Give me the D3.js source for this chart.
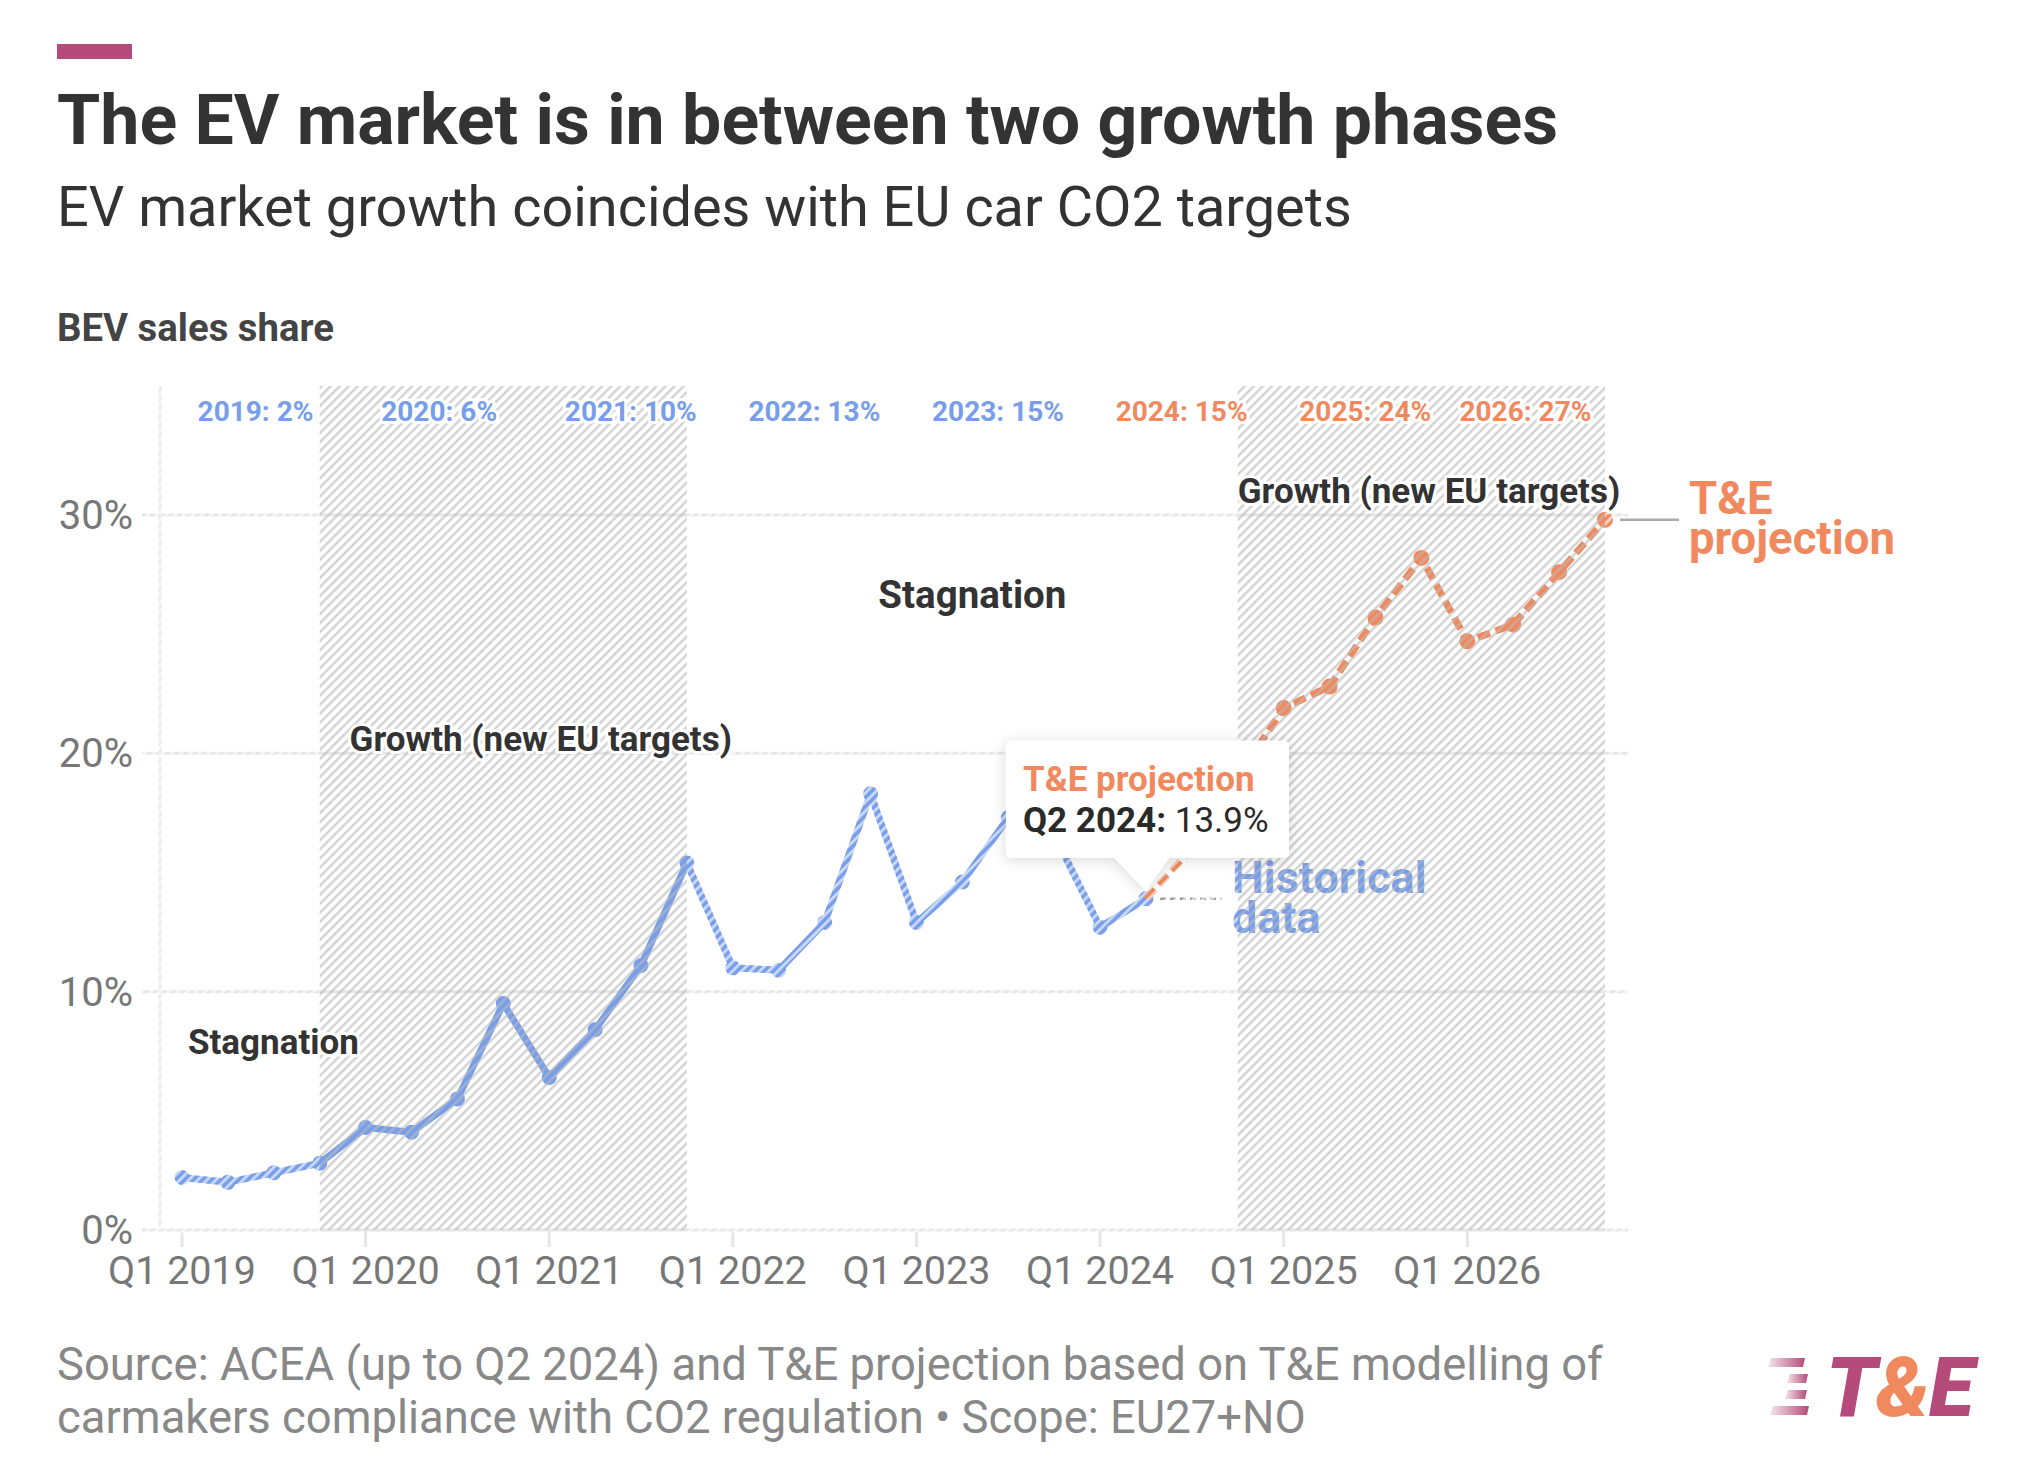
<!DOCTYPE html>
<html><head><meta charset="utf-8">
<script src="https://cdn.jsdelivr.net/npm/d3@7"></script>
<style>
html,body{margin:0;padding:0;background:#fff;}
svg{display:block;font-family:Roboto,"Noto Sans",sans-serif;}
</style></head><body>
<svg id="chart" width="2024" height="1471"></svg>
<script>
// ---------------- DATA ----------------
const quarters = [
  "Q1 2019","Q2 2019","Q3 2019","Q4 2019","Q1 2020","Q2 2020","Q3 2020","Q4 2020",
  "Q1 2021","Q2 2021","Q3 2021","Q4 2021","Q1 2022","Q2 2022","Q3 2022","Q4 2022",
  "Q1 2023","Q2 2023","Q3 2023","Q4 2023","Q1 2024","Q2 2024","Q3 2024","Q4 2024",
  "Q1 2025","Q2 2025","Q3 2025","Q4 2025","Q1 2026","Q2 2026","Q3 2026","Q4 2026"];
// BEV sales share (%), historical: Q1 2019 .. Q2 2024
const historicalQuarters = quarters.slice(0, 22);
const historicalValues = [2.2,2.0,2.4,2.8,4.3,4.1,5.5,9.5,6.4,8.4,11.1,15.4,11.0,10.9,12.9,18.3,12.9,14.6,17.3,16.6,12.7,13.9];
// T&E projection: Q2 2024 .. Q4 2026
const projectionQuarters = quarters.slice(21);
const projectionValues = [13.9,16.0,19.0,21.9,22.8,25.7,28.2,24.7,25.4,27.6,29.8];
const xTickLabels = ["Q1 2019","Q1 2020","Q1 2021","Q1 2022","Q1 2023","Q1 2024","Q1 2025","Q1 2026"];
const yTickValues = [0,10,20,30];
const annualLabels = ["2019: 2%","2020: 6%","2021: 10%","2022: 13%","2023: 15%","2024: 15%","2025: 24%","2026: 27%"];
const annualIsProjection = [false,false,false,false,false,true,true,true];
const growthPhases = [["Q4 2019","Q4 2021"],["Q4 2024","Q4 2026"]];
const phaseLabels = ["Stagnation","Growth (new EU targets)","Stagnation","Growth (new EU targets)"];

// ---------------- STYLE ----------------
const BLUE = "#789ee9", ORANGE = "#f08a5e", PINK = "#b54b7b", DARK = "#333333", GRAY = "#777777";
const svg = d3.select("#chart");
const qi = q => quarters.indexOf(q);
const x = d3.scaleLinear().domain([0, quarters.length - 1]).range([182, 1605]);
const y = d3.scaleLinear().domain([0, 30]).range([1230, 515]);
const plotTop = 386, plotLeft = 160, plotRight = 1628;

function fitWidth(sel, target){
  const w = sel.node().getComputedTextLength();
  const fs = parseFloat(sel.attr("font-size"));
  sel.attr("font-size", (fs * target / w).toFixed(2));
}

// ---------------- HEADER ----------------
svg.append("rect").attr("x",57).attr("y",44).attr("width",75).attr("height",15).attr("fill",PINK);
const title = svg.append("text").attr("x",57).attr("y",144).attr("font-size",68).attr("font-weight",700)
  .attr("fill",DARK).text("The EV market is in between two growth phases");
fitWidth(title, 1501);
const sub = svg.append("text").attr("x",57).attr("y",226).attr("font-size",50).attr("font-weight",400)
  .attr("fill",DARK).text("EV market growth coincides with EU car CO2 targets");
fitWidth(sub, 1295);
const ylab = svg.append("text").attr("x",57).attr("y",341).attr("font-size",38).attr("font-weight",700)
  .attr("fill","#444").text("BEV sales share");
fitWidth(ylab, 277);

// ---------------- DEFS ----------------
const defs = svg.append("defs");
const pw = defs.append("pattern").attr("id","hatchWhite").attr("patternUnits","userSpaceOnUse")
  .attr("width",6.4).attr("height",6.4).attr("patternTransform","rotate(45)");
pw.append("rect").attr("x",0).attr("y",0).attr("width",2.9).attr("height",6.4).attr("fill","rgba(255,255,255,0.6)");
const pg = defs.append("pattern").attr("id","hatchGray").attr("patternUnits","userSpaceOnUse")
  .attr("width",6.4).attr("height",6.4).attr("patternTransform","rotate(45)");
pg.append("rect").attr("x",0).attr("y",0).attr("width",2.5).attr("height",6.4).attr("fill","rgba(185,185,185,0.62)");
const sh = defs.append("filter").attr("id","shadow").attr("x","-20%").attr("y","-30%").attr("width","140%").attr("height","170%");
sh.append("feDropShadow").attr("dx",0).attr("dy",2).attr("stdDeviation",7).attr("flood-color","#000").attr("flood-opacity",0.16);
const lg = defs.append("linearGradient").attr("id","logoGrad").attr("x1","0").attr("x2","1").attr("y1","0").attr("y2","0");
lg.append("stop").attr("offset","0%").attr("stop-color",PINK).attr("stop-opacity",0.15);
lg.append("stop").attr("offset","100%").attr("stop-color",PINK).attr("stop-opacity",1);

// ---------------- GRID & AXES ----------------
const g = svg.append("g");
g.selectAll("line.grid").data(yTickValues).join("line").attr("class","grid")
  .attr("x1",142).attr("x2",plotRight).attr("y1",d=>y(d)).attr("y2",d=>y(d))
  .attr("stroke","#e6e6e6").attr("stroke-width",3);
g.append("line").attr("x1",plotLeft).attr("x2",plotLeft).attr("y1",plotTop).attr("y2",y(0))
  .attr("stroke","#ececec").attr("stroke-width",3);
g.selectAll("line.xt").data(xTickLabels).join("line").attr("class","xt")
  .attr("x1",d=>x(qi(d))).attr("x2",d=>x(qi(d))).attr("y1",y(0)).attr("y2",y(0)+17)
  .attr("stroke","#e6e6e6").attr("stroke-width",3);
g.selectAll("text.yl").data(yTickValues).join("text").attr("class","yl")
  .attr("x",133).attr("y",d=>y(d)).attr("dy","0.35em").attr("text-anchor","end")
  .attr("font-size",40).attr("fill",GRAY).text(d=>d+"%");
g.selectAll("text.xl").data(xTickLabels).join("text").attr("class","xl")
  .attr("x",d=>x(qi(d))).attr("y",1284).attr("text-anchor","middle")
  .attr("font-size",39.5).attr("fill",GRAY).text(d=>d);

// ---------------- LINES ----------------
const line = d3.line().x(d=>x(qi(d.q))).y(d=>y(d.v));
const hist = historicalQuarters.map((q,i)=>({q, v:historicalValues[i]}));
const proj = projectionQuarters.map((q,i)=>({q, v:projectionValues[i]}));
svg.append("path").datum(hist).attr("d",line).attr("fill","none").attr("stroke",BLUE)
  .attr("stroke-width",7).attr("stroke-linejoin","round").attr("stroke-linecap","round");
svg.selectAll("circle.h").data(hist).join("circle").attr("class","h")
  .attr("cx",d=>x(qi(d.q))).attr("cy",d=>y(d.v)).attr("r",7.5).attr("fill",BLUE);
svg.append("path").datum(proj).attr("d",line).attr("fill","none").attr("stroke",ORANGE)
  .attr("stroke-width",7).attr("stroke-dasharray","13,6").attr("stroke-linejoin","round");
svg.selectAll("circle.p").data(proj.slice(1)).join("circle").attr("class","p")
  .attr("cx",d=>x(qi(d.q))).attr("cy",d=>y(d.v)).attr("r",8).attr("fill",ORANGE);

// "Historical data" label (under hatch)
const lastH = hist[hist.length-1];
svg.append("line").attr("x1",x(qi(lastH.q))+14).attr("x2",x(qi(lastH.q))+76)
  .attr("y1",y(lastH.v)).attr("y2",y(lastH.v)).attr("stroke","#9a9a9a").attr("stroke-width",2.5).attr("stroke-dasharray","6,4");
const hd = svg.append("text").attr("x",x(qi(lastH.q))+86).attr("font-size",45).attr("font-weight",700).attr("fill",BLUE);
hd.append("tspan").attr("x",x(qi(lastH.q))+86).attr("y",y(lastH.v)-6).text("Historical");
hd.append("tspan").attr("x",x(qi(lastH.q))+86).attr("y",y(lastH.v)+34).text("data");

// ---------------- HATCH OVERLAY ----------------
const bounds = [plotLeft-20];
growthPhases.forEach(p=>{ bounds.push(x(qi(p[0]))); bounds.push(x(qi(p[1]))); });
bounds.push(plotRight+2);
for (let i=0;i<bounds.length-1;i++){
  const shaded = i%2===1;
  svg.append("rect").attr("x",bounds[i]).attr("y",shaded?plotTop:plotTop-5)
    .attr("width",bounds[i+1]-bounds[i]).attr("height",y(0)-(shaded?plotTop:plotTop-5)+(shaded?0:3))
    .attr("fill", shaded ? "url(#hatchGray)" : "url(#hatchWhite)");
}

// ---------------- ANNOTATIONS ----------------
const halo = sel => sel.attr("stroke","#fff").attr("stroke-width",6).attr("paint-order","stroke").attr("stroke-linejoin","round");
const annualOffsets = [0.34,0.34,0.34,0.34,0.34,0.34,0.34,-0.17];
svg.selectAll("text.annual").data(annualLabels).join("text").attr("class","annual")
  .attr("x",(d,i)=>x(qi(xTickLabels[i]) + annualOffsets[i])).attr("y",421)
  .attr("font-size",28).attr("font-weight",700)
  .attr("fill",(d,i)=>annualIsProjection[i]?ORANGE:BLUE).text(d=>d).call(halo);

const phasePos = [
  {q:"Q1 2019", dq:0.13, v:7.4, fs:35},
  {q:"Q4 2019", dq:0.65, v:20.1, fs:35},
  {q:"Q1 2023", dq:-0.83, v:26.1, fs:38.5},
  {q:"Q4 2024", dq:0.0, v:30.5, fs:35}];
svg.selectAll("text.phase").data(phaseLabels).join("text").attr("class","phase")
  .attr("x",(d,i)=>x(qi(phasePos[i].q)+phasePos[i].dq)).attr("y",(d,i)=>y(phasePos[i].v))
  .attr("font-size",(d,i)=>phasePos[i].fs).attr("font-weight",700).attr("fill",DARK)
  .text(d=>d).call(halo);

// T&E projection end label
const lastP = proj[proj.length-1];
svg.append("line").attr("x1",x(qi(lastP.q))+15).attr("x2",x(qi(lastP.q))+74)
  .attr("y1",y(lastP.v)).attr("y2",y(lastP.v)).attr("stroke","#aaaaaa").attr("stroke-width",2.5);
const tp = svg.append("text").attr("font-size",45.5).attr("font-weight",700).attr("fill",ORANGE);
tp.append("tspan").attr("x",x(qi(lastP.q))+84).attr("y",y(lastP.v)-6).text("T&E");
tp.append("tspan").attr("x",x(qi(lastP.q))+84).attr("y",y(lastP.v)+34).text("projection");

// ---------------- TOOLTIP ----------------
const tipX = x(qi(lastH.q)), tipY = y(lastH.v) - 8;
const tt = svg.append("g").attr("filter","url(#shadow)");
tt.append("rect").attr("x",tipX-140).attr("y",tipY-150).attr("width",283).attr("height",117).attr("rx",5).attr("fill","#fff");
tt.append("path").attr("d",`M${tipX-33},${tipY-34} L${tipX},${tipY} L${tipX+24},${tipY-34} Z`).attr("fill","#fff");
svg.append("rect").attr("x",tipX-140).attr("y",tipY-150).attr("width",283).attr("height",117).attr("rx",5).attr("fill","#fff");
svg.append("path").attr("d",`M${tipX-33},${tipY-36} L${tipX},${tipY} L${tipX+24},${tipY-36} Z`).attr("fill","#fff");
svg.append("text").attr("x",tipX-123).attr("y",tipY-100).attr("font-size",35).attr("font-weight",700)
  .attr("fill",ORANGE).text("T&E projection");
const t2 = svg.append("text").attr("x",tipX-123).attr("y",tipY-59).attr("font-size",35).attr("fill","#2a2a2a");
t2.append("tspan").attr("font-weight",700).text(lastH.q + ":");
t2.append("tspan").attr("font-weight",400).text(" " + lastH.v.toFixed(1) + "%");

// ---------------- FOOTER ----------------
const f1 = svg.append("text").attr("x",57).attr("y",1380).attr("font-size",40).attr("fill","#888")
  .text("Source: ACEA (up to Q2 2024) and T&E projection based on T&E modelling of");
fitWidth(f1, 1546);
svg.append("text").attr("x",57).attr("y",1433).attr("font-size",f1.attr("font-size")).attr("fill","#888")
  .text("carmakers compliance with CO2 regulation • Scope: EU27+NO");

// logo
const logo = svg.append("g");
[[1768,1358,1803,9],[1787,1374,1806,9],[1785,1390,1805,9],[1770,1406,1807,9]].forEach(b=>{
  logo.append("path").attr("d",`M${b[0]+3},${b[1]} L${b[2]+2},${b[1]} L${b[2]},${b[1]+b[3]} L${b[0]},${b[1]+b[3]} Z`)
    .attr("fill","url(#logoGrad)");
});
const lt = logo.append("text").attr("x",1826).attr("y",1416).attr("font-size",83).attr("font-weight",900)
  .attr("font-style","italic").attr("letter-spacing",-1);
lt.append("tspan").attr("fill",PINK).text("T");
lt.append("tspan").attr("fill",ORANGE).text("&");
lt.append("tspan").attr("fill",PINK).text("E");
</script>
</body></html>
